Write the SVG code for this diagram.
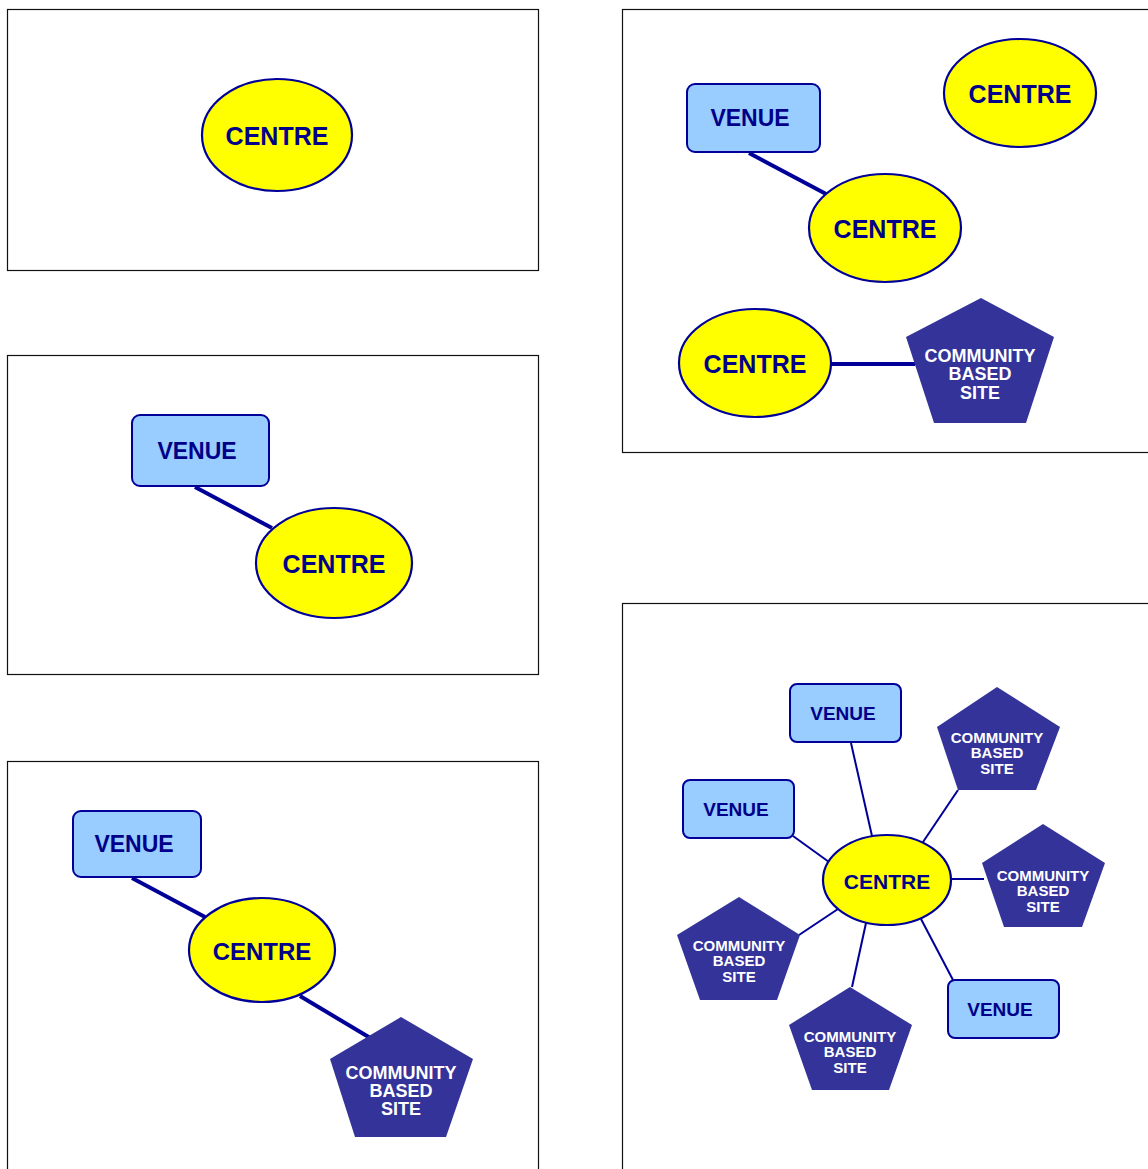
<svg xmlns="http://www.w3.org/2000/svg" width="1148" height="1169" viewBox="0 0 1148 1169">
<style>
.frame{fill:none;stroke:#111;stroke-width:1.2}
.centre{fill:#ffff00;stroke:#000099;stroke-width:2.2}
.venue{fill:#99ccff;stroke:#000099;stroke-width:2}
.cbs{fill:#333399;stroke:none}
.ct{font-family:"Liberation Sans",Arial,sans-serif;font-weight:bold;fill:#000088;text-anchor:middle;dominant-baseline:central}
.wt{font-family:"Liberation Sans",Arial,sans-serif;font-weight:bold;fill:#ffffff;text-anchor:middle;dominant-baseline:central}
.thick{stroke:#000099;stroke-width:4;fill:none}
.thin{stroke:#000099;stroke-width:2;fill:none}
</style>
<rect width="1148" height="1169" fill="#ffffff"/>
<g id="frames">
<rect class="frame" x="7.5" y="9.5" width="531" height="261"/>
<rect class="frame" x="7.5" y="355.5" width="531" height="319"/>
<rect class="frame" x="7.5" y="761.5" width="531" height="420"/>
<rect class="frame" x="622.5" y="9.5" width="540" height="443"/>
<rect class="frame" x="622.5" y="603.5" width="540" height="580"/>
</g>
<g id="connectors">
<line class="thick" x1="195" y1="487" x2="272" y2="528"/>
<line class="thick" x1="132" y1="878" x2="205" y2="917"/>
<line class="thick" x1="300" y1="996" x2="372" y2="1039"/>
<line class="thick" x1="749" y1="153" x2="828" y2="195"/>
<line class="thick" x1="831" y1="364" x2="915" y2="364"/>
<line class="thin" x1="851" y1="743" x2="872" y2="836"/>
<line class="thin" x1="793" y1="836" x2="829" y2="862"/>
<line class="thin" x1="958" y1="790" x2="923" y2="842"/>
<line class="thin" x1="951" y1="879" x2="984" y2="879"/>
<line class="thin" x1="799" y1="935" x2="838" y2="909"/>
<line class="thin" x1="866" y1="923" x2="852" y2="987"/>
<line class="thin" x1="921" y1="919" x2="953" y2="980"/>
</g>
<g id="p1-centre">
<ellipse class="centre" cx="277" cy="135" rx="75" ry="56"/>
<text class="ct" x="277" y="136" font-size="25">CENTRE</text>
</g>
<g id="p2-venue">
<rect class="venue" x="132" y="415" width="137" height="71" rx="8"/>
<text class="ct" x="197" y="451" font-size="23">VENUE</text>
</g>
<g id="p2-centre">
<ellipse class="centre" cx="334" cy="563" rx="78" ry="55"/>
<text class="ct" x="334" y="564" font-size="25">CENTRE</text>
</g>
<g id="p3-venue">
<rect class="venue" x="73" y="811" width="128" height="66" rx="8"/>
<text class="ct" x="134" y="844" font-size="23">VENUE</text>
</g>
<g id="p3-centre">
<ellipse class="centre" cx="262" cy="950" rx="73" ry="52"/>
<text class="ct" x="262" y="951" font-size="24">CENTRE</text>
</g>
<g id="p3-cbs">
<polygon class="cbs" points="401,1017 473,1059 446,1137 355,1137 330,1059"/>
<text class="wt" x="401" y="1073" font-size="18">COMMUNITY</text>
<text class="wt" x="401" y="1091" font-size="18">BASED</text>
<text class="wt" x="401" y="1109" font-size="18">SITE</text>
</g>
<g id="p4-venue">
<rect class="venue" x="687" y="84" width="133" height="68" rx="8"/>
<text class="ct" x="750" y="118" font-size="23">VENUE</text>
</g>
<g id="p4-centre-a">
<ellipse class="centre" cx="1020" cy="93" rx="76" ry="54"/>
<text class="ct" x="1020" y="94" font-size="25">CENTRE</text>
</g>
<g id="p4-centre-b">
<ellipse class="centre" cx="885" cy="228" rx="76" ry="54"/>
<text class="ct" x="885" y="229" font-size="25">CENTRE</text>
</g>
<g id="p4-centre-c">
<ellipse class="centre" cx="755" cy="363" rx="76" ry="54"/>
<text class="ct" x="755" y="364" font-size="25">CENTRE</text>
</g>
<g id="p4-cbs">
<polygon class="cbs" points="981,298 1054,337 1026,423 934,423 906,337"/>
<text class="wt" x="980" y="356" font-size="18">COMMUNITY</text>
<text class="wt" x="980" y="374" font-size="18">BASED</text>
<text class="wt" x="980" y="393" font-size="18">SITE</text>
</g>
<g id="p5-centre">
<ellipse class="centre" cx="887" cy="880" rx="64" ry="45"/>
<text class="ct" x="887" y="881" font-size="21">CENTRE</text>
</g>
<g id="p5-venue-top">
<rect class="venue" x="790" y="684" width="111" height="58" rx="7"/>
<text class="ct" x="843" y="713" font-size="19">VENUE</text>
</g>
<g id="p5-venue-left">
<rect class="venue" x="683" y="780" width="111" height="58" rx="7"/>
<text class="ct" x="736" y="809" font-size="19">VENUE</text>
</g>
<g id="p5-venue-br">
<rect class="venue" x="948" y="980" width="111" height="58" rx="7"/>
<text class="ct" x="1000" y="1009" font-size="19">VENUE</text>
</g>
<g id="p5-cbs-tr">
<polygon class="cbs" points="997,687 1060,727 1036,790 958,790 937,727"/>
<text class="wt" x="997" y="737" font-size="15">COMMUNITY</text>
<text class="wt" x="997" y="752" font-size="15">BASED</text>
<text class="wt" x="997" y="768" font-size="15">SITE</text>
</g>
<g id="p5-cbs-r">
<polygon class="cbs" points="1043,824 1105,863 1082,927 1004,927 982,863"/>
<text class="wt" x="1043" y="875" font-size="15">COMMUNITY</text>
<text class="wt" x="1043" y="890" font-size="15">BASED</text>
<text class="wt" x="1043" y="906" font-size="15">SITE</text>
</g>
<g id="p5-cbs-l">
<polygon class="cbs" points="739,897 800,935 777,1000 700,1000 677,935"/>
<text class="wt" x="739" y="945" font-size="15">COMMUNITY</text>
<text class="wt" x="739" y="960" font-size="15">BASED</text>
<text class="wt" x="739" y="976" font-size="15">SITE</text>
</g>
<g id="p5-cbs-b">
<polygon class="cbs" points="850,987 912,1025 889,1090 812,1090 789,1025"/>
<text class="wt" x="850" y="1036" font-size="15">COMMUNITY</text>
<text class="wt" x="850" y="1051" font-size="15">BASED</text>
<text class="wt" x="850" y="1067" font-size="15">SITE</text>
</g>
</svg>
